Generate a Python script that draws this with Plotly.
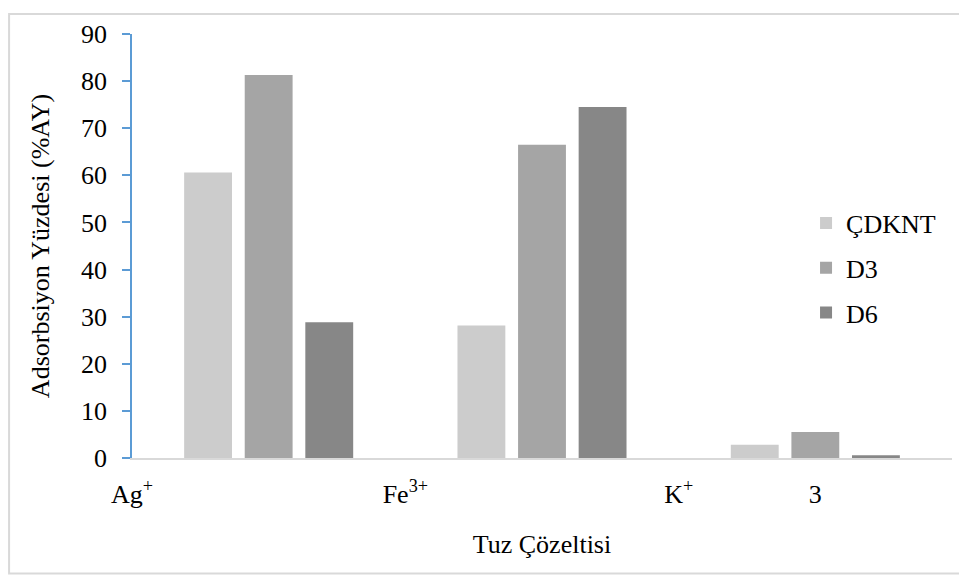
import plotly.graph_objects as go

# salt solutions (bar groups) and adsorption percentages
groups = [1, 2, 3]
cdknt = [60.6, 28.1, 2.8]
d3 = [81.3, 66.5, 5.5]
d6 = [28.8, 74.5, 0.6]

tick_pos = [0.5, 1.5, 2.5, 3]
tick_text = ["Ag<sup>+</sup>", "Fe<sup>3+</sup>", "K<sup>+</sup>", "3"]

font = "Liberation Serif"

fig = go.Figure()
fig.add_trace(go.Bar(x=groups, y=cdknt, name="ÇDKNT", marker_color="#cccccc", legendgroup="a"))
fig.add_trace(go.Bar(x=groups, y=d3, name="D3", marker_color="#a5a5a5", legendgroup="b"))
fig.add_trace(go.Bar(x=groups, y=d6, name="D6", marker_color="#878787", legendgroup="c"))

fig.update_traces(marker_line_width=0)

# page has an 8px body margin, so the figure is a bit smaller than the window
fig.update_layout(
    width=959, height=573,
    margin=dict(l=124, r=15, t=21, b=123),
    paper_bgcolor="white", plot_bgcolor="white",
    font=dict(family=font, size=26, color="black"),
    barmode="group", bargap=0.335, bargroupgap=0.21,
    showlegend=True,
    legend=dict(x=0.822, y=0.448, xanchor="left", yanchor="middle",
                font=dict(size=26), tracegroupgap=8, bgcolor="rgba(0,0,0,0)"),
    xaxis=dict(range=[0.5, 3.5], tickvals=tick_pos, ticktext=tick_text,
               showgrid=False, zeroline=False, showline=True, linecolor="#d9d9d9", linewidth=2,
               ticks="", ticklabelstandoff=12,
               title=dict(text="Tuz Çözeltisi", font=dict(size=26), standoff=27)),
    yaxis=dict(range=[0, 90], dtick=10, showgrid=False, zeroline=False,
               showline=True, linecolor="#5b9bd5", linewidth=1.5,
               ticks="outside", ticklen=8, tickcolor="#5b9bd5", tickwidth=1.5,
               ticklabelstandoff=10,
               title=dict(text="Adsorbsiyon Yüzdesi (%AY)", font=dict(size=26), standoff=24)),
    shapes=[dict(type="rect", xref="paper", yref="paper",
                 x0=-0.1499, x1=1.03, y0=-0.2727, y1=1.047,
                 line=dict(color="#d9d9d9", width=2), layer="below")],
)

fig.write_html("out.html")
